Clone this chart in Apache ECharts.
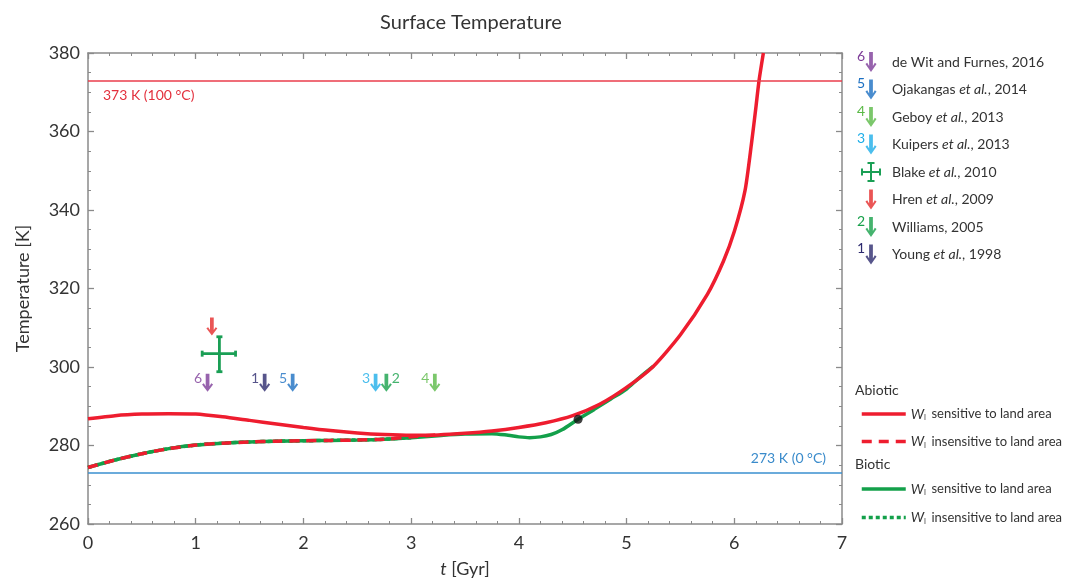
<!DOCTYPE html>
<html><head><meta charset="utf-8">
<script src="https://cdn.jsdelivr.net/npm/echarts@6/dist/echarts.min.js"></script>
<style>html,body{margin:0;padding:0;background:#fff}#c{width:1066px;height:583px}</style>
</head><body><div id="c"></div>
<script>
// ---------- data ----------
const xTickValues = [0, 1, 2, 3, 4, 5, 6, 7];
const yTickValues = [260, 280, 300, 320, 340, 360, 380];

// Abiotic, W sensitive to land area (solid red)
const tAbioSens = [0,0.25,0.5,0.75,1,1.25,1.5,1.75,2,2.25,2.5,2.75,3,3.25,3.5,3.75,4,4.25,4.5,4.75,5,5.25,5.5,5.75,5.9,6,6.1,6.16,6.2,6.23,6.27];
const TAbioSens = [286.8,287.6,288.0,288.1,288.0,287.3,286.4,285.5,284.6,283.8,283.2,282.8,282.6,282.7,283.1,283.7,284.6,285.8,287.6,290.5,294.8,300.2,308.2,318.5,327,334.5,345,357,366,373,380];

// Abiotic, W insensitive to land area (dashed red)
const tAbioIns = [0,0.25,0.5,0.75,1,1.25,1.5,1.75,2,2.25,2.5,2.75,3,3.25];
const TAbioIns = [274.4,276.3,277.9,279.2,280.1,280.6,280.9,281.1,281.2,281.3,281.4,281.6,282.2,282.7];

// Biotic, W sensitive to land area (solid green)
const tBioSens = [0,0.25,0.5,0.75,1,1.25,1.5,1.75,2,2.25,2.5,2.75,3,3.25,3.5,3.75,3.9,4,4.1,4.2,4.3,4.4,4.55,4.7,4.85,5,5.12,5.25];
const TBioSens = [274.4,276.3,277.9,279.2,280.1,280.6,280.9,281.1,281.2,281.3,281.4,281.6,282.0,282.5,282.9,283.0,282.6,282.2,282.0,282.2,282.8,284.0,286.7,289.2,291.8,294.4,297.3,300.2];

// Biotic, W insensitive to land area (dashed green)
const tBioIns = [0,0.25,0.5,0.75,1,1.25,1.5,1.75,2,2.25,2.5,2.75,3];
const TBioIns = [274.4,276.3,277.9,279.2,280.1,280.6,280.9,281.1,281.2,281.3,281.4,281.6,282.0];

// present-day marker
const presentT = [4.55];
const presentTemp = [286.7];

// upper-limit arrows (proxy data)
const arrowNames = ['de Wit and Furnes, 2016','Young et al., 1998','Ojakangas et al., 2014','Kuipers et al., 2013','Williams, 2005','Geboy et al., 2013','Hren et al., 2009'];
const arrowNums  = ['6','1','5','3','2','4',''];
const arrowT     = [1.11, 1.64, 1.90, 2.67, 2.77, 3.22, 1.15];
const arrowTemp  = [296, 296, 296, 296, 296, 296, 310.3];

// Blake et al. 2010 cross: t, T, tMin, tMax, TMin, TMax
const blakeName = 'Blake et al., 2010';
const blakeData = [[1.22, 303.4, 1.06, 1.37, 298.8, 307.7]];

// reference lines
const refTemps  = [373, 273];
const refLabels = ['373 K (100 °C)', '273 K (0 °C)'];

// legend
const legendRefs = ['de Wit and Furnes, 2016','Ojakangas et al., 2014','Geboy et al., 2013','Kuipers et al., 2013','Blake et al., 2010','Hren et al., 2009','Williams, 2005','Young et al., 1998'];
const legendNums = ['6','5','4','3','','','2','1'];
const lineNames = ['Abiotic: W sensitive to land area','Abiotic: W insensitive to land area','Biotic: W sensitive to land area','Biotic: W insensitive to land area'];

// ---------- styles ----------
const FF = 'Lato, "Open Sans", sans-serif';
const RED = '#ee1d2f', GREEN = '#13a04a';
const arrowColors = {
  'de Wit and Furnes, 2016':'#7d3c98','Young et al., 1998':'#2d2a6e','Ojakangas et al., 2014':'#1b6fc2',
  'Kuipers et al., 2013':'#1eaee8','Williams, 2005':'#17a04a','Geboy et al., 2013':'#5ab946',
  'Hren et al., 2009':'#e52b2b','Blake et al., 2010':'#1a9f55'
};
const ARROW = 'path://M3.3,0 L6.7,0 L6.7,12.5 L8.4,9.6 L10,10.8 L5,18 L0,10.8 L1.6,9.6 L3.3,12.5 Z';
const CROSS = 'path://M0,9 L20,9 L20,11 L0,11 Z M9,0 L11,0 L11,20 L9,20 Z M0,6.5 L2,6.5 L2,13.5 L0,13.5 Z M18,6.5 L20,6.5 L20,13.5 L18,13.5 Z M6.5,0 L13.5,0 L13.5,2 L6.5,2 Z M6.5,18 L13.5,18 L13.5,20 L6.5,20 Z';
const AX = '#8a8a8a';
const SMOOTH = 0.3;

const zip = (a, b) => a.map((v, i) => [v, b[i]]);

function axisCommon(extra) {
  return Object.assign({
    type: 'value',
    axisLine: { show: true, onZero: false, lineStyle: { color: AX, width: 1.5 } },
    axisTick: { show: true, inside: true, length: 6, lineStyle: { color: AX, width: 1.3 } },
    minorTick: { show: true, length: 3, lineStyle: { color: AX, width: 1 } },
    splitLine: { show: false },
    axisLabel: { color: '#333', fontSize: 18, fontFamily: FF }
  }, extra);
}

const series = [];
series.push({ name: lineNames[2], type: 'line', data: zip(tBioSens, TBioSens), showSymbol: false, symbol: 'none',
  smooth: SMOOTH, lineStyle: { color: GREEN, width: 3.5 }, itemStyle: { color: GREEN }, z: 2 });
series.push({ name: lineNames[3], type: 'line', data: zip(tBioIns, TBioIns), showSymbol: false, symbol: 'none',
  smooth: SMOOTH, lineStyle: { color: GREEN, width: 3.5, type: [4, 3] }, itemStyle: { color: GREEN }, z: 2 });
series.push({ name: lineNames[1], type: 'line', data: zip(tAbioIns, TAbioIns), showSymbol: false, symbol: 'none',
  smooth: SMOOTH, lineStyle: { color: RED, width: 3.5, type: [10, 7] }, itemStyle: { color: RED }, z: 3 });
series.push({ name: lineNames[0], type: 'line', data: zip(tAbioSens, TAbioSens), showSymbol: false, symbol: 'none',
  smooth: 0.22, lineStyle: { color: RED, width: 3.5 }, itemStyle: { color: RED }, z: 4 });
series.push({ name: 'refs', type: 'line', data: [], silent: true,
  markLine: { symbol: 'none', silent: true, animation: false,
    data: [
      { yAxis: refTemps[0], lineStyle: { color: '#ea3d4b', width: 1.5, type: 'solid' },
        label: { formatter: refLabels[0], position: 'insideStartBottom', distance: [15, 8], color: '#e3303d', fontSize: 14, fontFamily: FF } },
      { yAxis: refTemps[1], lineStyle: { color: '#3a8fcf', width: 1.5, type: 'solid' },
        label: { formatter: refLabels[1], position: 'insideEndTop', distance: [16, 7], color: '#3a8bcb', fontSize: 14, fontFamily: FF } }
    ] }, z: 1 });
series.push({ name: 'present', type: 'scatter', data: zip(presentT, presentTemp), symbol: 'circle', symbolSize: 9,
  itemStyle: { color: '#111' }, z: 6 });
arrowNames.forEach((n, i) => {
  const lbl = arrowNums[i];
  series.push({ name: n, type: 'scatter', symbol: ARROW, symbolSize: [11, 18], z: 7,
    itemStyle: { color: arrowColors[n] },
    data: [{ value: [arrowT[i], arrowTemp[i]], name: lbl }],
    label: { show: lbl !== '', formatter: '{b}', position: lbl === '2' ? 'right' : 'left', distance: 0, offset: [0, -4],
      color: arrowColors[n], fontSize: 14, fontFamily: FF } });
});
series.push({ name: blakeName, type: 'custom', z: 7, data: blakeData,
  encode: { x: [0, 2, 3], y: [1, 4, 5] },
  itemStyle: { color: arrowColors[blakeName] },
  renderItem(params, api) {
    const l = api.coord([api.value(2), api.value(1)]);
    const r = api.coord([api.value(3), api.value(1)]);
    const b = api.coord([api.value(0), api.value(4)]);
    const t = api.coord([api.value(0), api.value(5)]);
    const st = { stroke: arrowColors[blakeName], lineWidth: 2.8 };
    const cap = 3;
    return { type: 'group', children: [
      { type: 'line', shape: { x1: l[0], y1: l[1], x2: r[0], y2: r[1] }, style: st },
      { type: 'line', shape: { x1: t[0], y1: t[1], x2: b[0], y2: b[1] }, style: st },
      { type: 'line', shape: { x1: l[0], y1: l[1] - cap, x2: l[0], y2: l[1] + cap }, style: st },
      { type: 'line', shape: { x1: r[0], y1: r[1] - cap, x2: r[0], y2: r[1] + cap }, style: st },
      { type: 'line', shape: { x1: t[0] - cap, y1: t[1], x2: t[0] + cap, y2: t[1] }, style: st },
      { type: 'line', shape: { x1: b[0] - cap, y1: b[1], x2: b[0] + cap, y2: b[1] }, style: st }
    ] };
  } });

const lineRich = {
  w: { fontStyle: 'italic', fontSize: 14, fontFamily: FF, color: '#333' },
  s: { fontSize: 7, fontFamily: FF, color: '#333', padding: [8, 2, 0, 0] },
  n: { fontSize: 13, fontFamily: FF, color: '#333' }
};
const lineFmt = name => '{w|W}{s|I}{n| ' + (name.indexOf('insensitive') >= 0 ? 'insensitive' : 'sensitive') + ' to land area}';
const hiddenSym = { color: 'rgba(0,0,0,0)', borderColor: 'rgba(0,0,0,0)', borderWidth: 0, opacity: 0 };

const option = {
  backgroundColor: '#fff',
  animation: false,
  title: { text: 'Surface Temperature', left: 466, top: 8, textAlign: 'center',
    textStyle: { fontSize: 20, fontWeight: 'normal', color: '#333', fontFamily: FF } },
  grid: { left: 88, right: 224, top: 53, bottom: 58, containLabel: false },
  xAxis: [
    axisCommon({ position: 'bottom', min: xTickValues[0], max: xTickValues[xTickValues.length - 1], interval: 1,
      minorTick: { show: true, splitNumber: 5, length: 3, lineStyle: { color: AX, width: 1 } },
      axisLabel: { color: '#333', fontSize: 18, fontFamily: FF, margin: 10 },
      name: '{i|t} [Gyr]', nameLocation: 'middle', nameGap: 36,
      nameTextStyle: { fontSize: 18, color: '#333', fontFamily: FF,
        rich: { i: { fontStyle: 'italic', fontSize: 18, fontFamily: FF, color: '#333' } } } }),
    axisCommon({ position: 'top', min: xTickValues[0], max: xTickValues[xTickValues.length - 1], interval: 1,
      minorTick: { show: true, splitNumber: 5, length: 3, lineStyle: { color: AX, width: 1 } },
      axisLabel: { show: false } })
  ],
  yAxis: [
    axisCommon({ position: 'left', min: yTickValues[0], max: yTickValues[yTickValues.length - 1], interval: 20,
      minorTick: { show: true, splitNumber: 4, length: 3, lineStyle: { color: AX, width: 1 } },
      axisLabel: { color: '#333', fontSize: 18, fontFamily: FF, margin: 8 },
      name: 'Temperature [K]', nameLocation: 'middle', nameGap: 56,
      nameTextStyle: { fontSize: 18, color: '#333', fontFamily: FF } }),
    axisCommon({ position: 'right', min: yTickValues[0], max: yTickValues[yTickValues.length - 1], interval: 20,
      minorTick: { show: true, splitNumber: 4, length: 3, lineStyle: { color: AX, width: 1 } },
      axisLabel: { show: false } })
  ],
  legend: [
    { orient: 'vertical', left: 856, top: 47, itemWidth: 32, itemHeight: 20, itemGap: 7.5, selectedMode: false,
      symbolKeepAspect: true,
      data: legendRefs.map(n => ({ name: n, icon: n === blakeName ? CROSS : ARROW, itemStyle: { color: arrowColors[n] } })),
      formatter: n => n.replace(' et al.,', ' {i|et al.},'),
      textStyle: { fontSize: 14, color: '#333', fontFamily: FF,
        rich: { i: { fontStyle: 'italic', fontSize: 14, color: '#333', fontFamily: FF } } } },
    { orient: 'vertical', left: 855, top: 402, itemWidth: 44, itemHeight: 14, itemGap: 13, selectedMode: false,
      itemStyle: hiddenSym, lineStyle: { width: 3.5 },
      data: [lineNames[0], lineNames[1]], formatter: lineFmt,
      textStyle: { fontSize: 13, color: '#333', fontFamily: FF, rich: lineRich } },
    { orient: 'vertical', left: 855, top: 477, itemWidth: 44, itemHeight: 14, itemGap: 14, selectedMode: false,
      itemStyle: hiddenSym, lineStyle: { width: 3.5 },
      data: [lineNames[2], lineNames[3]], formatter: lineFmt,
      textStyle: { fontSize: 13, color: '#333', fontFamily: FF, rich: lineRich } }
  ],
  graphic: [
    { type: 'text', left: 855, top: 383, style: { text: 'Abiotic', fontSize: 14, fill: '#333', fontFamily: FF } },
    { type: 'text', left: 855, top: 457, style: { text: 'Biotic', fontSize: 14, fill: '#333', fontFamily: FF } }
  ].concat(legendNums.map((num, i) => ({
    type: 'text', right: 1066 - 865, top: 49 + i * 27.5,
    style: { text: num, fontSize: 14, fill: arrowColors[legendRefs[i]], fontFamily: FF }
  }))),
  series: series
};

const chart = echarts.init(document.getElementById('c'), null, { renderer: 'canvas' });
chart.setOption(option);
</script>
</body></html>
